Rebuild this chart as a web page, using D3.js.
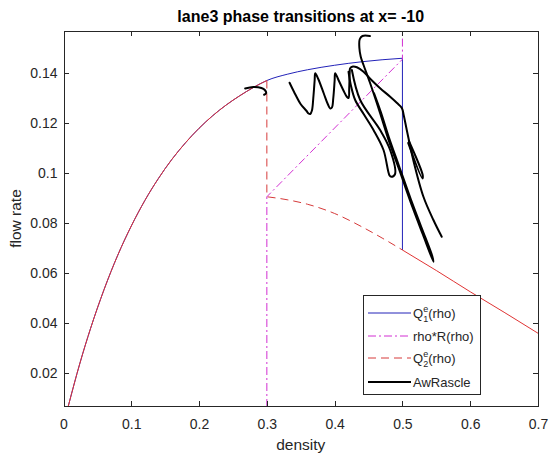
<!DOCTYPE html>
<html>
<head>
<meta charset="utf-8">
<script src="https://cdn.jsdelivr.net/npm/d3@7"></script>
<style>
  body { margin: 0; background: #fff; }
  svg { display: block; font-family: "Liberation Sans", Arial, Helvetica, sans-serif; }
  .axis path, .axis line { stroke: #262626; stroke-width: 1; shape-rendering: crispEdges; }
  .axis text { fill: #262626; font-size: 14px; font-family: "Liberation Sans", Arial, sans-serif; }
</style>
</head>
<body>
<div id="chart"></div>
<script>
// ticks
const xTicks = [0, 0.1, 0.2, 0.3, 0.4, 0.5, 0.6, 0.7];
const xTickLabels = ['0', '0.1', '0.2', '0.3', '0.4', '0.5', '0.6', '0.7'];
const yTicks = [0.02, 0.04, 0.06, 0.08, 0.1, 0.12, 0.14];
const yTickLabels = ['0.02', '0.04', '0.06', '0.08', '0.1', '0.12', '0.14'];

// Q1e curve (density, flow); it drops to Q2 at rho = 0.5
const q1Rho = [0.0071, 0.0243, 0.04, 0.06, 0.08, 0.1, 0.12, 0.14, 0.16, 0.18, 0.2, 0.22, 0.24, 0.26, 0.28, 0.3, 0.33, 0.36, 0.4, 0.44, 0.47, 0.5];
const q1Flow = [0.0068, 0.024, 0.0379, 0.0535, 0.0671, 0.0788, 0.089, 0.0978, 0.1055, 0.1121, 0.1179, 0.1229, 0.1272, 0.1309, 0.1342, 0.137, 0.1395, 0.1413, 0.1431, 0.1445, 0.1453, 0.1459];

// rho*R(rho)
const rRho = [0.3, 0.3, 0.5, 0.5];
const rFlow = [0.0, 0.0905, 0.1455, 0.2];

// Q2e curve (after the jump at rho = 0.3)
const q2Rho = [0.3, 0.33, 0.36, 0.4, 0.44, 0.47, 0.5];
const q2Flow = [0.0905, 0.0893, 0.0875, 0.0838, 0.0785, 0.074, 0.0692];

// red solid equilibrium pieces
const eqLowRho = q1Rho.filter(r => r <= 0.3);
const eqLowFlow = q1Flow.slice(0, eqLowRho.length);
const eqHighRho = [0.5, 0.55, 0.6, 0.65, 0.7];
const eqHighFlow = [0.0692, 0.061, 0.0525, 0.0443, 0.0359];

// AwRascle trajectory pieces [rho, flow]
const awStart = [[0.268, 0.1338], [0.280, 0.1344], [0.292, 0.1340], [0.297, 0.1332], [0.299, 0.1320], [0.296, 0.1313]];
const awZigzag = [[0.3335, 0.1361], [0.340, 0.1325], [0.350, 0.1275], [0.358, 0.1250], [0.3615, 0.1238], [0.364, 0.1236], [0.3665, 0.1250], [0.3685, 0.1300], [0.3705, 0.1370], [0.3714, 0.1399],
  [0.376, 0.1375], [0.384, 0.1318], [0.390, 0.1275], [0.3935, 0.1258], [0.396, 0.1262], [0.398, 0.1300], [0.400, 0.1370], [0.4008, 0.1399],
  [0.406, 0.1370], [0.413, 0.1330], [0.418, 0.1305], [0.4205, 0.1300], [0.4215, 0.1340], [0.4222, 0.1400], [0.4229, 0.1419], [0.427, 0.1426], [0.4328, 0.1423], [0.4426, 0.1405], [0.455, 0.1370], [0.4671, 0.1339], [0.4819, 0.1305], [0.492, 0.1280], [0.4991, 0.1260],
  [0.502, 0.1230], [0.5064, 0.1172], [0.516, 0.1052], [0.531, 0.0905], [0.5457, 0.0812], [0.558, 0.0745]];
const awHook = [[0.452, 0.1548], [0.441, 0.1548], [0.437, 0.1535], [0.4365, 0.1500], [0.4385, 0.1465], [0.4426, 0.1432], [0.4524, 0.1359], [0.4671, 0.1239], [0.4794, 0.1133], [0.4966, 0.1003], [0.515, 0.0862], [0.530, 0.0755], [0.5457, 0.0645],
  [0.544, 0.0668], [0.528, 0.0783], [0.512, 0.0898], [0.495, 0.1028], [0.480, 0.1143], [0.468, 0.1245], [0.458, 0.1320]];
const awPeakLines = [[0.4205, 0.1405], [0.424, 0.1350], [0.4303, 0.1292], [0.443, 0.1235], [0.4573, 0.1172], [0.4721, 0.1092], [0.481, 0.0990], [0.4835, 0.0985], [0.489, 0.0995], [0.4819, 0.1092], [0.4671, 0.1172], [0.4377, 0.1292], [0.4254, 0.1412]];
const awShort = [[0.5085, 0.1120], [0.5295, 0.0978], [0.5300, 0.0990], [0.5095, 0.1128]];
const awPieces = [awStart, awZigzag, awHook, awPeakLines, awShort];

const width = 549, height = 455;
const plot = { left: 63.5, right: 538, top: 31, bottom: 406 };

const x = d3.scaleLinear().domain([0, 0.7]).range([plot.left, plot.right]);
const y = d3.scaleLinear().domain([0.0068, 0.1568]).range([plot.bottom, plot.top]);

const svg = d3.select('#chart').append('svg')
  .attr('width', width)
  .attr('height', height);

svg.append('defs').append('clipPath').attr('id', 'clip')
  .append('rect')
  .attr('x', plot.left).attr('y', plot.top)
  .attr('width', plot.right - plot.left).attr('height', plot.bottom - plot.top);

const lines = svg.append('g').attr('clip-path', 'url(#clip)');
const line = d3.line().x(d => x(d[0])).y(d => y(d[1]));
const smooth = d3.line().x(d => x(d[0])).y(d => y(d[1])).curve(d3.curveMonotoneX);
const zipPts = (a, b) => a.map((v, i) => [v, b[i]]);

// Q1e: smooth curve plus the vertical drop at rho = 0.5
lines.append('path').datum(zipPts(q1Rho, q1Flow))
  .attr('d', smooth).attr('fill', 'none').attr('stroke', '#2222b8').attr('stroke-width', 1);
lines.append('path')
  .datum([[q1Rho[q1Rho.length - 1], q1Flow[q1Flow.length - 1]], [eqHighRho[0], eqHighFlow[0]]])
  .attr('d', line).attr('fill', 'none').attr('stroke', '#2222b8').attr('stroke-width', 1);

lines.append('path').datum(zipPts(rRho, rFlow))
  .attr('d', line).attr('fill', 'none').attr('stroke', '#d22fd2').attr('stroke-width', 1)
  .attr('stroke-dasharray', '8,3,2,3');

// Q2e: jump down at rho = 0.3 then the curve
const q2Path = d3.path();
q2Path.moveTo(x(0.3), y(q1Flow[q1Rho.indexOf(0.3)]));
q2Path.lineTo(x(q2Rho[0]), y(q2Flow[0]));
lines.append('path')
  .attr('d', q2Path.toString() + smooth(zipPts(q2Rho, q2Flow)).replace(/^M[^CL]*/, ''))
  .attr('fill', 'none').attr('stroke', '#d63a3a').attr('stroke-width', 1)
  .attr('stroke-dasharray', '8,5');

lines.append('path').datum(zipPts(eqLowRho, eqLowFlow))
  .attr('d', smooth).attr('fill', 'none').attr('stroke', '#e03434').attr('stroke-width', 1);
lines.append('path').datum(zipPts(eqHighRho, eqHighFlow))
  .attr('d', smooth).attr('fill', 'none').attr('stroke', '#e03434').attr('stroke-width', 1);

const awLine = d3.line().x(d => x(d[0])).y(d => y(d[1])).curve(d3.curveCatmullRom.alpha(0.5));
lines.selectAll('.aw').data(awPieces).enter().append('path')
  .attr('class', 'aw')
  .attr('d', awLine).attr('fill', 'none').attr('stroke', '#000').attr('stroke-width', 2)
  .attr('stroke-linejoin', 'round').attr('stroke-linecap', 'round');

// axes, ticks pointing inwards on all four sides
svg.append('g').attr('class', 'axis')
  .attr('transform', `translate(0,${plot.bottom})`)
  .call(d3.axisBottom(x).tickValues(xTicks).tickFormat((d, i) => xTickLabels[i]).tickSizeInner(-5).tickSizeOuter(0).tickPadding(13));
svg.append('g').attr('class', 'axis')
  .attr('transform', `translate(0,${plot.top})`)
  .call(d3.axisTop(x).tickValues(xTicks).tickFormat('').tickSizeInner(-5).tickSizeOuter(0));
svg.append('g').attr('class', 'axis')
  .attr('transform', `translate(${plot.left},0)`)
  .call(d3.axisLeft(y).tickValues(yTicks).tickFormat((d, i) => yTickLabels[i]).tickSizeInner(-5).tickSizeOuter(0).tickPadding(6));
svg.append('g').attr('class', 'axis')
  .attr('transform', `translate(${plot.right},0)`)
  .call(d3.axisRight(y).tickValues(yTicks).tickFormat('').tickSizeInner(-5).tickSizeOuter(0));

// labels
svg.append('text')
  .attr('x', (plot.left + plot.right) / 2).attr('y', 22)
  .attr('text-anchor', 'middle').attr('font-size', 16).attr('font-weight', 'bold').attr('fill', '#000')
  .text('lane3 phase transitions at x= -10');
svg.append('text')
  .attr('x', (plot.left + plot.right) / 2).attr('y', 450)
  .attr('text-anchor', 'middle').attr('font-size', 15.5).attr('fill', '#262626')
  .text('density');
svg.append('text')
  .attr('transform', `translate(21,${(plot.top + plot.bottom) / 2}) rotate(-90)`)
  .attr('text-anchor', 'middle').attr('font-size', 15.5).attr('fill', '#262626')
  .text('flow rate');

// legend
const legendItems = [
  { name: 'Q1', sub: '1', color: '#2222b8', dash: null, width: 1 },
  { name: 'rho*R(rho)', color: '#d22fd2', dash: '8,3,2,3', width: 1 },
  { name: 'Q2', sub: '2', color: '#d63a3a', dash: '8,5', width: 1 },
  { name: 'AwRascle', color: '#000', dash: null, width: 2 }
];
const legendRows = [313, 336, 358, 382];

const legend = svg.append('g');
legend.append('rect')
  .attr('x', 363).attr('y', 295).attr('width', 117).attr('height', 99)
  .attr('fill', '#fff').attr('stroke', '#262626').attr('stroke-width', 1)
  .attr('shape-rendering', 'crispEdges');

legendItems.forEach((d, i) => {
  const ry = legendRows[i];
  legend.append('line')
    .attr('x1', 368).attr('x2', 411).attr('y1', ry).attr('y2', ry)
    .attr('stroke', d.color).attr('stroke-width', d.width)
    .attr('stroke-dasharray', d.dash);
  const t = legend.append('text')
    .attr('x', 413).attr('y', ry + 4.5)
    .attr('font-size', 13).attr('fill', '#262626');
  if (d.sub) {
    t.append('tspan').text('Q');
    t.append('tspan').attr('dy', -6).attr('font-size', 9).text('e');
    t.append('tspan').attr('dx', -5).attr('dy', 10).attr('font-size', 9).text(d.sub);
    t.append('tspan').attr('dy', -4).text('(rho)');
  } else {
    t.text(d.name);
  }
});
</script>
</body>
</html>
